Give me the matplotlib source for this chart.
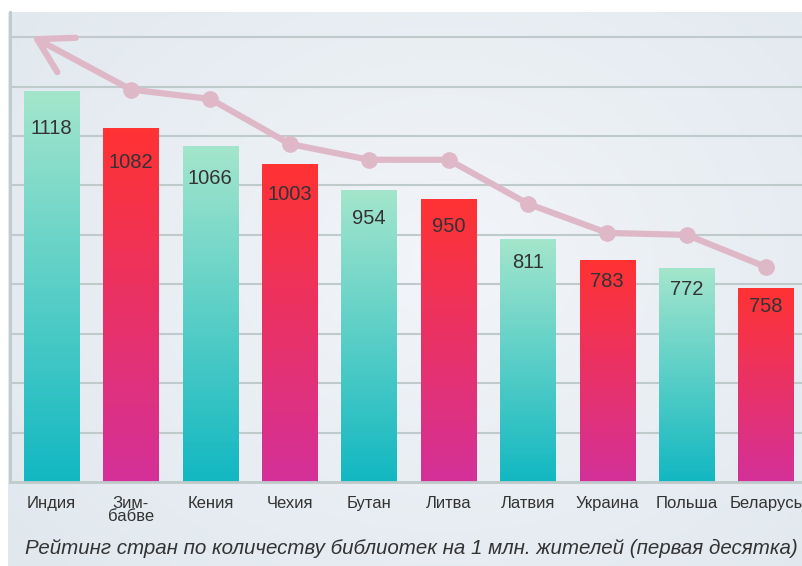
import matplotlib
matplotlib.use('Agg')
import matplotlib.pyplot as plt
import numpy as np

countries = ['Индия', 'Зим-\nбабве', 'Кения', 'Чехия', 'Бутан', 'Литва',
             'Латвия', 'Украина', 'Польша', 'Беларусь']
values = [1118, 1082, 1066, 1003, 954, 950, 811, 783, 772, 758]
# drawn heights of the bars (in grid steps; the infographic is not to scale)
bar_heights = [7.90, 7.15, 6.79, 6.42, 5.89, 5.71, 4.91, 4.49, 4.31, 3.92]
# pink trend line: arrow tip first, then one point per country from Zimbabwe on
line_x = [-0.25, 1, 2, 3, 4, 5, 6, 7, 8, 9]
line_y = [9.02, 7.94, 7.75, 6.84, 6.52, 6.52, 5.63, 5.04, 5.0, 4.35]
title = 'Рейтинг стран по количеству библиотек на 1 млн. жителей (первая десятка)'

plt.rcParams['font.family'] = ['Liberation Sans', 'DejaVu Sans']

W, H = 803, 566
fig = plt.figure(figsize=(W / 100, H / 100), dpi=100)
fig.patch.set_facecolor('white')

# background panel with a soft gradient
bg = fig.add_axes([8 / W, 0, 1 - 8 / W, 1 - 12 / H])
bg.set_axis_off()
gx, gy = np.meshgrid(np.linspace(0, 1, 200), np.linspace(0, 1, 200))
d = np.sqrt(((gx - 0.55) / 0.7) ** 2 + ((gy - 0.45) / 0.8) ** 2)
c_in = np.array([0.95, 0.96, 0.975])
c_out = np.array([0.88, 0.91, 0.935])
t = np.clip(d, 0, 1)[..., None]
bg.imshow(c_in * (1 - t) + c_out * t, extent=[0, 1, 0, 1], aspect='auto')

ax = fig.add_axes([10 / W, (H - 482) / H, 1 - 10 / W, (482 - 12) / H])
ax.patch.set_alpha(0)

x = np.arange(len(countries))
w = 0.7
teal = [np.array([0.64, 0.90, 0.80]), np.array([0.07, 0.72, 0.76])]
red = [np.array([1.0, 0.20, 0.20]), np.array([0.83, 0.19, 0.60])]
for i, h in enumerate(bar_heights):
    top, bot = teal if i % 2 == 0 else red
    s = np.linspace(0, 1, 100)[:, None]
    grad = (top * (1 - s) + bot * s)[:, None, :]
    ax.imshow(grad, extent=[x[i] - w / 2, x[i] + w / 2, 0, h],
              aspect='auto', zorder=2)
    ax.text(x[i], h * 0.905, str(values[i]), ha='center', va='center',
            fontsize=14.5, color='#333333', zorder=3)

for k in range(1, 10):
    ax.axhline(k, color='#bfcaca', lw=1.5, zorder=1)

ax.plot(line_x[1:], line_y[1:], color='#dfb8c8', lw=4.5, marker='o',
        markersize=11, solid_capstyle='round', zorder=4)
ax.annotate('', xy=(line_x[0], line_y[0]), xytext=(line_x[1], line_y[1]),
            arrowprops=dict(arrowstyle='->,head_length=2.4,head_width=1.4',
                            color='#dfb8c8', lw=4.5, shrinkA=0, shrinkB=0),
            zorder=4)

ax.set_xlim(-0.523, 9.465)
ax.set_ylim(0, 9.51)
ax.set_xticks(x)
ax.set_xticklabels(countries, fontsize=12, color='#333333', linespacing=0.85)
ax.tick_params(axis='x', length=0, pad=10)
ax.set_yticks([])
for sp in ['top', 'right']:
    ax.spines[sp].set_visible(False)
for sp in ['left', 'bottom']:
    ax.spines[sp].set_color('#bfcaca')
    ax.spines[sp].set_linewidth(2)

fig.text(0.512, (H - 548) / H, title, ha='center', va='center',
         fontsize=14.8, style='italic', color='#333333')

fig.savefig('out.png', dpi=100)
